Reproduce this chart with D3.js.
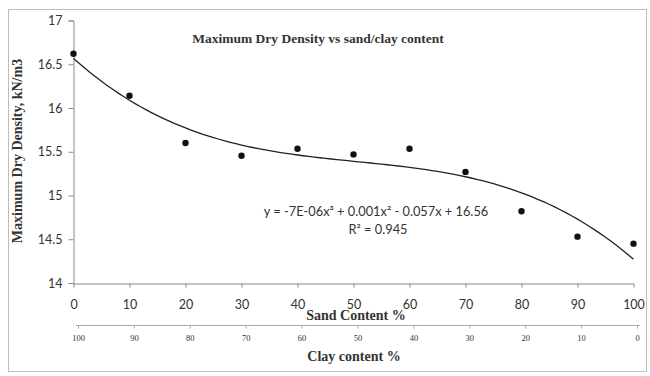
<!DOCTYPE html>
<html>
<head>
<meta charset="utf-8">
<script src="https://cdn.jsdelivr.net/npm/d3@7"></script>
<style>
  body { margin: 0; background: #fff; }
  text { fill: #333; }
</style>
</head>
<body>
<svg id="chart" width="650" height="376"></svg>
<script>
// sand content % (x) and maximum dry density (y)
const sand = [0, 10, 20, 30, 40, 50, 60, 70, 80, 90, 100]
const density = [16.62, 16.14, 15.60, 15.455, 15.535, 15.47, 15.535, 15.27, 14.82, 14.53, 14.45]

const sandTicks = [0, 10, 20, 30, 40, 50, 60, 70, 80, 90, 100]
const clayTicks = [100, 90, 80, 70, 60, 50, 40, 30, 20, 10, 0]
const yTicks = [14, 14.5, 15, 15.5, 16, 16.5, 17]

const equation = 'y = -7E-06x\u00B3 + 0.001x\u00B2 - 0.057x + 16.56'
const rSquared = 'R\u00B2 = 0.945'

const svg = d3.select('#chart')

// outer frame
svg.append('rect')
    .attr('x', 8.5).attr('y', 9.5)
    .attr('width', 638).attr('height', 362)
    .attr('fill', '#fff')
    .attr('stroke', '#bdbdbd')

const x = d3.scaleLinear().domain([0, 100]).range([73.5, 633.5])
const y = d3.scaleLinear().domain([14, 17]).range([283, 20.5])
const xClay = d3.scaleLinear().domain([100, 0]).range([78, 637])

// y axis
const yAxis = svg.append('g')
    .attr('transform', 'translate(73.5,0)')
    .call(d3.axisLeft(y).tickValues(yTicks).tickSize(5).tickPadding(6).tickFormat(d3.format('')))
yAxis.select('.domain').attr('stroke', '#8a8a8a')
yAxis.selectAll('line').attr('stroke', '#8a8a8a')
yAxis.selectAll('text')
    .style('font-family', 'Lato, sans-serif').style('font-size', '12.5px').attr('fill', '#444')

// sand axis
const xAxis = svg.append('g')
    .attr('transform', 'translate(0,283.5)')
    .call(d3.axisBottom(x).tickValues(sandTicks).tickSize(4).tickPadding(13).tickSizeOuter(0))
xAxis.select('.domain').attr('stroke', '#8a8a8a')
xAxis.selectAll('line').attr('stroke', '#8a8a8a')
xAxis.selectAll('text')
    .style('font-family', 'Lato, sans-serif').style('font-size', '12.5px').attr('fill', '#444')

// clay axis
svg.append('line')
    .attr('x1', 76).attr('x2', 640).attr('y1', 325.5).attr('y2', 325.5)
    .attr('stroke', '#a8a8a8')
const clayAxis = svg.append('g')
    .attr('transform', 'translate(0,325.5)')
    .call(d3.axisBottom(xClay).tickValues(clayTicks).tickSize(3).tickPadding(6).tickSizeOuter(0))
clayAxis.select('.domain').remove()
clayAxis.selectAll('line').attr('stroke', '#a8a8a8')
clayAxis.selectAll('text')
    .style('font-family', '"Liberation Serif", serif').style('font-size', '8.5px').attr('fill', '#666')

// cubic least-squares trend through the points
function polyFit(xs, ys, order) {
    const n = order + 1
    const A = Array.from({ length: n }, () => new Array(n + 1).fill(0))
    xs.forEach((xv, k) => {
        for (let i = 0; i < n; i++) {
            for (let j = 0; j < n; j++) A[i][j] += Math.pow(xv, i + j)
            A[i][n] += ys[k] * Math.pow(xv, i)
        }
    })
    for (let i = 0; i < n; i++) {
        let p = i
        for (let r = i + 1; r < n; r++) {
            if (Math.abs(A[r][i]) > Math.abs(A[p][i])) p = r
        }
        const tmp = A[i]; A[i] = A[p]; A[p] = tmp
        for (let r = 0; r < n; r++) {
            if (r === i) continue
            const f = A[r][i] / A[i][i]
            for (let c = i; c <= n; c++) A[r][c] -= f * A[i][c]
        }
    }
    return A.map((row, i) => row[n] / row[i])
}
const coef = polyFit(sand, density, 3)
const trend = d3.range(0, 100.5, 1).map(v => [v, coef.reduce((s, c, i) => s + c * Math.pow(v, i), 0)])

svg.append('path')
    .datum(trend)
    .attr('fill', 'none')
    .attr('stroke', '#222')
    .attr('stroke-width', 1.3)
    .attr('d', d3.line().x(d => x(d[0])).y(d => y(d[1])))

// points
svg.append('g')
    .selectAll('circle')
    .data(sand.map((s, i) => [s, density[i]]))
    .join('circle')
    .attr('cx', d => x(d[0]))
    .attr('cy', d => y(d[1]))
    .attr('r', 3.2)
    .attr('fill', '#111')

// titles
const serifBold = sel => sel
    .attr('text-anchor', 'middle')
    .style('font-family', '"Liberation Serif", serif')
    .style('font-weight', 'bold')
    .attr('fill', '#111')

svg.append('text')
    .attr('x', 318).attr('y', 43)
    .call(serifBold).style('font-size', '13.5px')
    .text('Maximum Dry Density vs sand/clay content')

svg.append('text')
    .attr('transform', 'translate(22,151) rotate(-90)')
    .call(serifBold).style('font-size', '14px')
    .text('Maximum Dry Density, kN/m3')

svg.append('text')
    .attr('x', 356).attr('y', 320)
    .call(serifBold).style('font-size', '14px')
    .text('Sand Content %')

svg.append('text')
    .attr('x', 354).attr('y', 361)
    .call(serifBold).style('font-size', '14px')
    .text('Clay content %')

// trendline label
svg.append('text')
    .attr('x', 376).attr('y', 216)
    .attr('text-anchor', 'middle')
    .style('font-family', 'Lato, sans-serif').style('font-size', '12.8px')
    .attr('fill', '#333')
    .text(equation)

svg.append('text')
    .attr('x', 378).attr('y', 234)
    .attr('text-anchor', 'middle')
    .style('font-family', 'Lato, sans-serif').style('font-size', '12.8px')
    .attr('fill', '#333')
    .text(rSquared)
</script>
</body>
</html>
